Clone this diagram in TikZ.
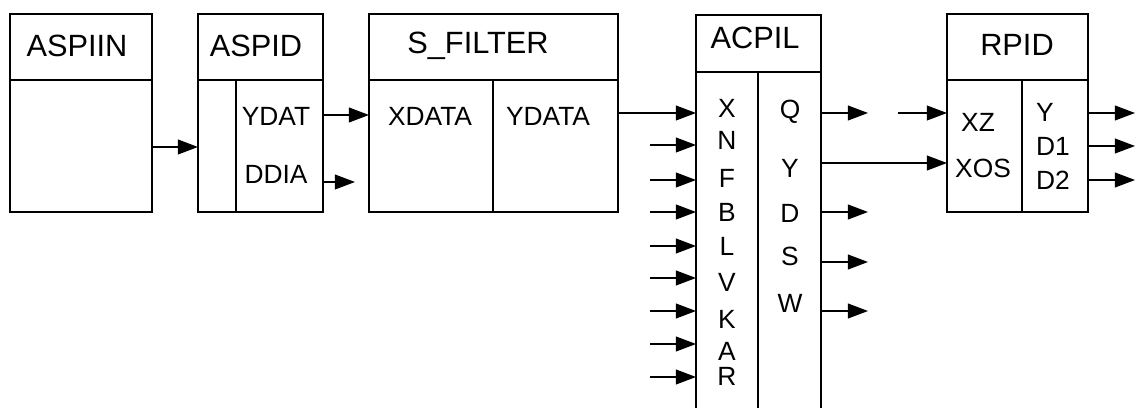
\documentclass[tikz,border=0pt]{standalone}
\usepackage{fontspec}
\setmainfont{Liberation Sans}
\usetikzlibrary{arrows.meta}
\tikzset{
  blk/.style={line width=1.2pt},
  lnk/.style={line width=0.75pt,-{Triangle[length=11.5pt,width=8.5pt]}},
  head/.style={font=\fontsize{17.5}{20}\selectfont, inner sep=0pt},
  port/.style={font=\fontsize{15}{17}\selectfont, inner sep=0pt},
}
\begin{document}
\begin{tikzpicture}[x=0.02cm, y=-0.02cm]
    \useasboundingbox (0,0) rectangle (1139,408);

    % Block ASPIIN
    \draw[blk] (10,14) rectangle (152,212);
    \draw[blk] (10,80) -- (152,80);
    \node[head] (aspiin) at (77,46) {ASPIIN};
    \coordinate (aspiin-out) at (152,147);

    % Block ASPID
    \draw[blk] (198,14) rectangle (323,212);
    \draw[blk] (198,80) -- (323,80);
    \draw[blk] (236,80) -- (236,212);
    \node[head] (aspid) at (256,46) {ASPID};
    \node[port] (aspid-ydat) at (276,116) {YDAT};
    \node[port] (aspid-ddia) at (276,174) {DDIA};
    \coordinate (aspid-in) at (198,147);
    \coordinate (aspid-out1) at (323,115);
    \coordinate (aspid-out2) at (323,182);
    \coordinate (ddia-end) at (355,182);

    % Block S_FILTER
    \draw[blk] (369,14) rectangle (618,212);
    \draw[blk] (369,80) -- (618,80);
    \draw[blk] (493,80) -- (493,212);
    \node[head] (sfilt) at (478,46) {S\_FILTER};
    \node[port] (sfilt-xdata) at (430,116) {XDATA};
    \node[port] (sfilt-ydata) at (548,116) {YDATA};
    \coordinate (sfilt-in) at (369,115);
    \coordinate (sfilt-out) at (618,113);

    % Block ACPIL (runs off the bottom)
    \draw[blk] (696,408) -- (696,15) -- (821,15) -- (821,408);
    \draw[blk] (696,72) -- (821,72);
    \draw[blk] (758,72) -- (758,408);
    \node[head] (acpil) at (755,38) {ACPIL};
    \foreach \lbl/\ty in {X/108,N/140,F/178,B/212,L/246,V/282,K/319,A/351,R/376}
        \node[port] (acpil-\lbl) at (727,\ty) {\lbl};
    \foreach \lbl/\ty in {Q/112,Y/168,D/213,S/256,W/303}
        \node[port] (acpil-o\lbl) at (790,\ty) {\lbl};
    \coordinate (acpil-inX) at (696,113);

    % Block RPID
    \draw[blk] (947,14) rectangle (1088,212);
    \draw[blk] (947,80) -- (1088,80);
    \draw[blk] (1022,80) -- (1022,212);
    \node[head] (rpid) at (1017,45) {RPID};
    \node[port] (rpid-xz) at (978,122) {XZ};
    \node[port] (rpid-xos) at (983,168) {XOS};
    \node[port] (rpid-y) at (1045,112) {Y};
    \node[port] (rpid-d1) at (1053,146) {D1};
    \node[port] (rpid-d2) at (1053,180) {D2};
    \coordinate (rpid-inxz) at (947,113);
    \coordinate (rpid-inxos) at (947,163);
    \coordinate (xz-start) at (898,113);

    % links
    \draw[lnk] (aspiin-out) -- (aspid-in);
    \draw[lnk] (aspid-out1) -- (sfilt-in);
    \draw[lnk] (aspid-out2) -- (ddia-end);
    \draw[lnk] (sfilt-out) -- (acpil-inX);
    \draw[lnk] (xz-start) -- (rpid-inxz);

    % free inputs of ACPIL
    \foreach \ty in {145,180,212,246,278,311,344,377} {
        \coordinate (in-s) at (650,\ty);
        \coordinate (in-e) at (696,\ty);
        \draw[lnk] (in-s) -- (in-e);
    }

    % outputs of ACPIL
    \foreach \ty in {113,212,262,311} {
        \coordinate (out-s) at (821,\ty);
        \coordinate (out-e) at (868,\ty);
        \draw[lnk] (out-s) -- (out-e);
    }
    \coordinate (acpil-outY) at (821,163);
    \draw[lnk] (acpil-outY) -- (rpid-inxos);

    % outputs of RPID
    \foreach \ty in {113,146,180} {
        \coordinate (r-s) at (1088,\ty);
        \coordinate (r-e) at (1135,\ty);
        \draw[lnk] (r-s) -- (r-e);
    }
\end{tikzpicture}
\end{document}
